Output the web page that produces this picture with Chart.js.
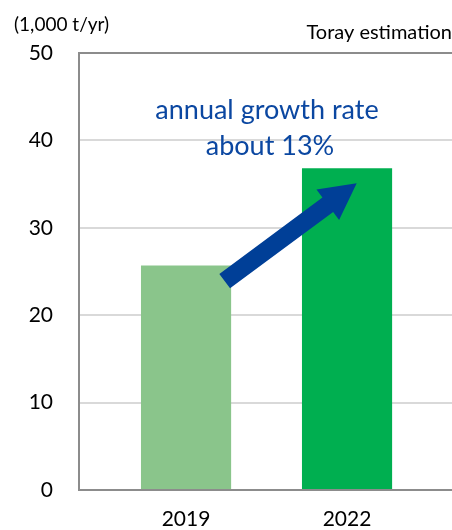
<!DOCTYPE html>
<html>
<head>
<meta charset="utf-8">
<script src="https://cdn.jsdelivr.net/npm/chart.js@4"></script>
<style>
  html, body { margin: 0; padding: 0; background: #fff; }
  #wrap { width: 452px; height: 530px; position: relative; }
</style>
</head>
<body>
<div id="wrap"><canvas id="demandChart" width="452" height="530"></canvas></div>
<script>
const years = ['2019', '2022'];
const demand = [25.7, 36.8];
const barColors = ['#8AC58B', '#00AF50'];
const yTicks = [0, 10, 20, 30, 40, 50];
const unitLabel = '(1,000 t/yr)';
const sourceLabel = 'Toray estimation';
const noteLines = ['annual growth rate', 'about 13%'];
// arrow in data units (x = category index, y = value)
const arrowFrom = { x: 0.24, y: 23.9 };
const arrowTo = { x: 1.06, y: 35.1 };

const font = "Lato, 'Open Sans', sans-serif";

// draws the growth arrow, the note and the corner texts
const extras = {
    id: 'extras',
    afterDatasetsDraw(chart) {
        const c = chart.ctx;
        const xs = chart.scales.x, ys = chart.scales.y;
        const x1 = xs.getPixelForValue(arrowFrom.x), y1 = ys.getPixelForValue(arrowFrom.y);
        const x2 = xs.getPixelForValue(arrowTo.x), y2 = ys.getPixelForValue(arrowTo.y);
        const ang = Math.atan2(y2 - y1, x2 - x1);
        const len = Math.hypot(x2 - x1, y2 - y1);
        const shaft = 9, head = 19, headLen = 36;
        c.save();
        c.translate(x1, y1);
        c.rotate(ang);
        c.fillStyle = '#003F97';
        c.beginPath();
        c.moveTo(0, -shaft);
        c.lineTo(len - headLen, -shaft);
        c.lineTo(len - headLen, -head);
        c.lineTo(len, 0);
        c.lineTo(len - headLen, head);
        c.lineTo(len - headLen, shaft);
        c.lineTo(0, shaft);
        c.closePath();
        c.fill();
        c.restore();

        c.save();
        c.fillStyle = '#0B47A1';
        c.font = '27px ' + font;
        c.textAlign = 'center';
        c.textBaseline = 'middle';
        c.fillText(noteLines[0], 267, 110);
        c.fillText(noteLines[1], 270, 146);

        c.fillStyle = '#000';
        c.font = '19px ' + font;
        c.textAlign = 'left';
        c.fillText(unitLabel, 14, 25);
        c.font = '20px ' + font;
        c.textAlign = 'right';
        c.fillText(sourceLabel, 452, 33);
        c.restore();
    }
};

new Chart(document.getElementById('demandChart'), {
    type: 'bar',
    data: {
        datasets: [{
            data: demand.map((v, i) => ({ x: i, y: v })),
            backgroundColor: barColors,
            borderWidth: 0,
            barPercentage: 0.56,
            categoryPercentage: 1
        }]
    },
    options: {
        responsive: false,
        animation: false,
        layout: { padding: { top: 53, right: 0, left: 0, bottom: 0 } },
        scales: {
            x: {
                type: 'linear',
                offset: false,
                min: -0.665,
                max: 1.652,
                afterBuildTicks: s => { s.ticks = years.map((_, i) => ({ value: i })); },
                afterFit: s => { s.height = 40; },
                ticks: {
                    callback: v => years[v],
                    color: '#000',
                    padding: 17,
                    autoSkip: false,
                    maxRotation: 0,
                    font: { family: font, size: 21 }
                },
                grid: { display: false, drawTicks: false, offset: false },
                border: { display: false }
            },
            y: {
                min: 0,
                max: 50,
                afterBuildTicks: s => { s.ticks = yTicks.map(v => ({ value: v })); },
                afterFit: s => { s.width = 79; },
                ticks: {
                    color: '#000',
                    padding: 26,
                    font: { family: font, size: 21 }
                },
                grid: {
                    drawTicks: false,
                    lineWidth: 2,
                    color: c => (c.tick && (c.tick.value === 0 || c.tick.value === 50)) ? '#8C8C8C' : '#D9D9D9'
                },
                border: { color: '#8C8C8C', width: 2 }
            }
        },
        plugins: {
            legend: { display: false },
            tooltip: { enabled: false }
        }
    },
    plugins: [extras]
});
</script>
</body>
</html>
